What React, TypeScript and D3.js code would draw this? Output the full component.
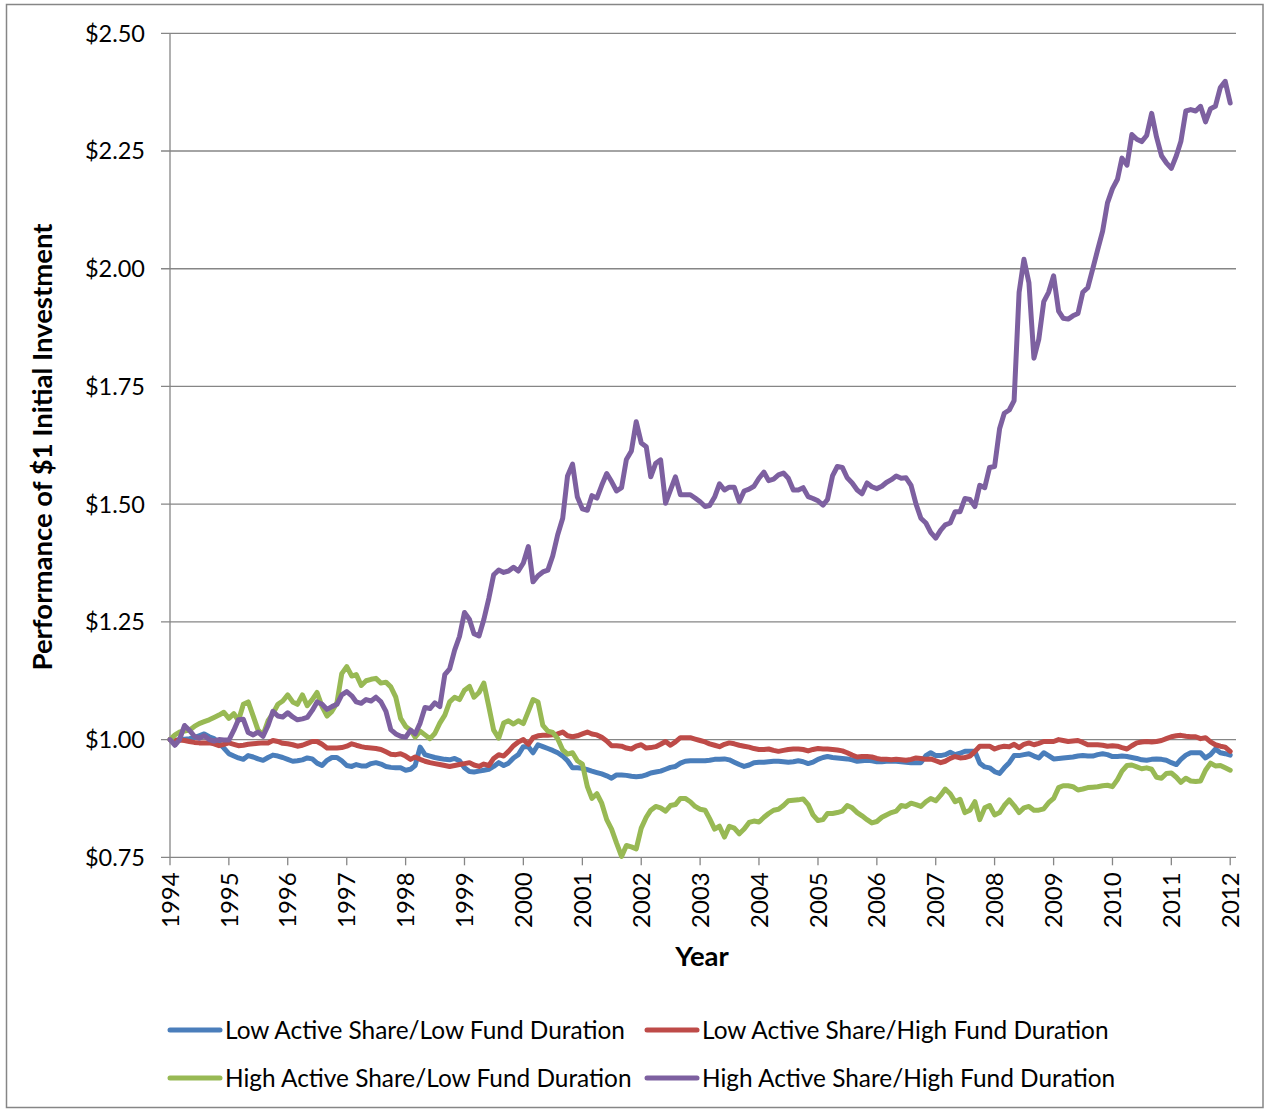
import React from "react";
import * as d3 from "d3";

// monthly values, Jan 1994 .. Jan 2012 (217 points)
const months: Date[] = d3.timeMonth.range(new Date(1994, 0, 1), new Date(2012, 1, 1));

const yearTicks = ["1994", "1995", "1996", "1997", "1998", "1999", "2000", "2001", "2002", "2003",
	"2004", "2005", "2006", "2007", "2008", "2009", "2010", "2011", "2012"];

const yTicks = [0.75, 1.0, 1.25, 1.5, 1.75, 2.0, 2.25, 2.5];

const seriesNames = [
	"Low Active Share/Low Fund Duration",
	"Low Active Share/High Fund Duration",
	"High Active Share/Low Fund Duration",
	"High Active Share/High Fund Duration",
];

const lowLow = [
	1.000, 0.998, 1.000, 1.001, 1.002, 1.004, 1.008, 1.012, 1.006, 1.002, 0.992, 0.982,
	0.970, 0.965, 0.961, 0.958, 0.966, 0.963, 0.959, 0.956, 0.962, 0.967, 0.965, 0.962,
	0.958, 0.954, 0.955, 0.957, 0.961, 0.959, 0.950, 0.945, 0.956, 0.962, 0.962, 0.955,
	0.945, 0.943, 0.947, 0.944, 0.944, 0.949, 0.951, 0.948, 0.943, 0.941, 0.940, 0.940,
	0.935, 0.937, 0.945, 0.984, 0.968, 0.965, 0.962, 0.960, 0.958, 0.957, 0.960, 0.955,
	0.940, 0.932, 0.931, 0.933, 0.935, 0.937, 0.943, 0.951, 0.945, 0.950, 0.961, 0.968,
	0.985, 0.985, 0.972, 0.989, 0.985, 0.981, 0.977, 0.972, 0.965, 0.955, 0.940, 0.940,
	0.939, 0.936, 0.933, 0.930, 0.927, 0.923, 0.918, 0.925, 0.925, 0.924, 0.922, 0.921,
	0.922, 0.925, 0.929, 0.931, 0.933, 0.937, 0.941, 0.943, 0.950, 0.954, 0.955, 0.955,
	0.955, 0.955, 0.956, 0.958, 0.958, 0.959, 0.957, 0.952, 0.947, 0.943, 0.946, 0.951,
	0.952, 0.952, 0.953, 0.954, 0.954, 0.953, 0.952, 0.953, 0.955, 0.953, 0.949, 0.952,
	0.958, 0.962, 0.964, 0.962, 0.961, 0.960, 0.959, 0.957, 0.954, 0.955, 0.956, 0.955,
	0.953, 0.953, 0.954, 0.954, 0.954, 0.953, 0.952, 0.951, 0.951, 0.951, 0.966, 0.972,
	0.966, 0.966, 0.968, 0.973, 0.968, 0.971, 0.975, 0.975, 0.975, 0.950, 0.942, 0.940,
	0.932, 0.928, 0.940, 0.951, 0.966, 0.966, 0.968, 0.970, 0.965, 0.961, 0.972, 0.966,
	0.959, 0.960, 0.961, 0.962, 0.963, 0.965, 0.966, 0.965, 0.965, 0.968, 0.970, 0.968,
	0.964, 0.964, 0.965, 0.964, 0.962, 0.960, 0.957, 0.956, 0.958, 0.959, 0.958, 0.956,
	0.951, 0.947, 0.958, 0.967, 0.972, 0.972, 0.972, 0.961, 0.968, 0.980, 0.972, 0.970,
	0.967,
];

const lowHigh = [
	1.000, 0.998, 0.999, 0.998, 0.996, 0.994, 0.993, 0.993, 0.993, 0.991, 0.987, 0.990,
	0.993, 0.990, 0.987, 0.988, 0.990, 0.991, 0.992, 0.993, 0.993, 0.998, 0.996, 0.992,
	0.991, 0.989, 0.986, 0.988, 0.992, 0.996, 0.996, 0.990, 0.982, 0.982, 0.982, 0.983,
	0.986, 0.991, 0.988, 0.985, 0.983, 0.982, 0.981, 0.979, 0.974, 0.969, 0.968, 0.970,
	0.965, 0.958, 0.963, 0.958, 0.954, 0.951, 0.949, 0.947, 0.945, 0.943, 0.945, 0.947,
	0.949, 0.951, 0.946, 0.943, 0.948, 0.945, 0.960, 0.968, 0.965, 0.975, 0.987, 0.995,
	1.000, 0.990, 1.004, 1.008, 1.009, 1.009, 1.010, 1.012, 1.016, 1.008, 1.006, 1.008,
	1.012, 1.016, 1.012, 1.010, 1.005, 0.997, 0.987, 0.987, 0.986, 0.982, 0.980, 0.986,
	0.989, 0.982, 0.983, 0.985, 0.990, 0.996, 0.988, 0.995, 1.004, 1.004, 1.004, 1.001,
	0.998, 0.995, 0.991, 0.988, 0.985, 0.990, 0.993, 0.991, 0.988, 0.986, 0.984, 0.981,
	0.979, 0.979, 0.980, 0.977, 0.975, 0.977, 0.979, 0.980, 0.980, 0.979, 0.976, 0.979,
	0.981, 0.980, 0.980, 0.979, 0.978, 0.976, 0.972, 0.967, 0.963, 0.964, 0.964, 0.963,
	0.960, 0.958, 0.958, 0.957, 0.958, 0.957, 0.956, 0.958, 0.961, 0.960, 0.958, 0.959,
	0.955, 0.951, 0.954, 0.960, 0.964, 0.961, 0.962, 0.965, 0.975, 0.986, 0.986, 0.986,
	0.980, 0.984, 0.986, 0.985, 0.990, 0.983, 0.990, 0.993, 0.989, 0.992, 0.996, 0.996,
	0.996, 1.000, 0.998, 0.996, 0.997, 0.998, 0.994, 0.989, 0.989, 0.989, 0.988, 0.986,
	0.987, 0.986, 0.983, 0.980, 0.987, 0.993, 0.995, 0.996, 0.995, 0.996, 0.998, 1.002,
	1.006, 1.008, 1.009, 1.007, 1.006, 1.006, 1.002, 1.004, 0.995, 0.989, 0.986, 0.984,
	0.975,
];

const highLow = [
	1.000, 1.010, 1.016, 1.018, 1.020, 1.028, 1.034, 1.038, 1.042, 1.047, 1.052, 1.058,
	1.045, 1.055, 1.040, 1.075, 1.080, 1.050, 1.020, 1.010, 1.040, 1.055, 1.075, 1.082,
	1.095, 1.080, 1.075, 1.095, 1.072, 1.085, 1.100, 1.070, 1.050, 1.060, 1.078, 1.140,
	1.155, 1.135, 1.138, 1.115, 1.125, 1.128, 1.130, 1.120, 1.122, 1.112, 1.090, 1.045,
	1.028, 1.020, 1.005, 1.018, 1.010, 1.002, 1.013, 1.035, 1.052, 1.080, 1.090, 1.085,
	1.105, 1.113, 1.090, 1.100, 1.120, 1.070, 1.020, 1.003, 1.035, 1.040, 1.033, 1.040,
	1.034, 1.060, 1.085, 1.080, 1.030, 1.018, 1.015, 1.002, 0.978, 0.969, 0.972, 0.955,
	0.948, 0.900, 0.875, 0.885, 0.865, 0.830, 0.810, 0.780, 0.752, 0.775, 0.772, 0.768,
	0.812, 0.835, 0.850, 0.858, 0.855, 0.848, 0.860, 0.862, 0.875, 0.875, 0.868, 0.858,
	0.852, 0.850, 0.832, 0.810, 0.816, 0.793, 0.816, 0.812, 0.800, 0.810, 0.824, 0.827,
	0.825, 0.835, 0.843, 0.850, 0.852, 0.860, 0.870, 0.871, 0.872, 0.874, 0.862, 0.840,
	0.828, 0.830, 0.843, 0.843, 0.845, 0.848, 0.860, 0.855, 0.845, 0.838, 0.830, 0.823,
	0.826, 0.835, 0.840, 0.845, 0.848, 0.860, 0.858, 0.865, 0.862, 0.858, 0.868, 0.875,
	0.870, 0.882, 0.895, 0.885, 0.868, 0.873, 0.845, 0.850, 0.868, 0.830, 0.855, 0.860,
	0.840, 0.845, 0.860, 0.872, 0.860, 0.845, 0.855, 0.858, 0.850, 0.850, 0.853, 0.866,
	0.875, 0.898, 0.902, 0.902, 0.900, 0.893, 0.895, 0.898, 0.899, 0.900, 0.902, 0.903,
	0.900, 0.915, 0.933, 0.945, 0.946, 0.942, 0.938, 0.940, 0.937, 0.920, 0.918, 0.928,
	0.929, 0.920, 0.909, 0.918, 0.912, 0.911, 0.912, 0.935, 0.950, 0.944, 0.945, 0.940,
	0.935,
];

const highHigh = [
	1.000, 0.988, 1.000, 1.030, 1.020, 1.007, 1.003, 1.008, 1.000, 0.997, 1.000, 0.999,
	0.999, 1.020, 1.042, 1.043, 1.015, 1.010, 1.016, 1.007, 1.030, 1.060, 1.050, 1.048,
	1.057, 1.048, 1.042, 1.044, 1.047, 1.062, 1.080, 1.075, 1.064, 1.070, 1.075, 1.095,
	1.102, 1.093, 1.080, 1.077, 1.085, 1.082, 1.090, 1.080, 1.060, 1.021, 1.012, 1.007,
	1.005, 1.020, 1.012, 1.035, 1.068, 1.066, 1.078, 1.070, 1.138, 1.150, 1.190, 1.219,
	1.270, 1.255, 1.225, 1.220, 1.255, 1.300, 1.350, 1.360, 1.355, 1.358, 1.366, 1.358,
	1.375, 1.410, 1.335, 1.348, 1.356, 1.360, 1.390, 1.435, 1.470, 1.560, 1.585, 1.515,
	1.490, 1.487, 1.518, 1.513, 1.540, 1.565, 1.548, 1.528, 1.535, 1.595, 1.613, 1.675,
	1.630, 1.622, 1.558, 1.587, 1.594, 1.502, 1.530, 1.558, 1.520, 1.520, 1.520, 1.513,
	1.505, 1.495, 1.497, 1.515, 1.543, 1.530, 1.536, 1.536, 1.505, 1.528, 1.532, 1.538,
	1.555, 1.568, 1.550, 1.553, 1.562, 1.566, 1.555, 1.530, 1.530, 1.535, 1.516, 1.512,
	1.507, 1.498, 1.510, 1.560, 1.580, 1.578, 1.556, 1.545, 1.530, 1.522, 1.545, 1.537,
	1.533, 1.538, 1.546, 1.552, 1.560, 1.555, 1.556, 1.540, 1.500, 1.470, 1.460, 1.440,
	1.428, 1.445, 1.456, 1.460, 1.484, 1.484, 1.512, 1.510, 1.495, 1.540, 1.535, 1.578,
	1.580, 1.660, 1.693, 1.700, 1.720, 1.950, 2.020, 1.970, 1.810, 1.850, 1.930, 1.950,
	1.985, 1.910, 1.895, 1.893, 1.900, 1.905, 1.950, 1.960, 2.000, 2.040, 2.080, 2.140,
	2.170, 2.190, 2.235, 2.220, 2.285, 2.275, 2.270, 2.283, 2.330, 2.280, 2.240, 2.225,
	2.213, 2.240, 2.270, 2.335, 2.338, 2.335, 2.345, 2.312, 2.340, 2.345, 2.385, 2.398,
	2.352,
];

const seriesValues = [lowLow, lowHigh, highLow, highHigh];
const colors = ["#4a7ebb", "#be4b48", "#98b954", "#7d60a0"];

const W = 1266;
const H = 1111;
const plot = { left: 170, right: 1236, top: 33.3, bottom: 857.3 };
const font = "Lato, 'Noto Sans', sans-serif";

export default function App() {
	const x = d3
		.scaleTime()
		.domain([new Date(1994, 0, 1), new Date(2012, 0, 1)])
		.range([plot.left, 1230.2]);
	const y = d3.scaleLinear().domain([0.75, 2.5]).range([plot.bottom, plot.top]);

	const line = d3
		.line<number>()
		.x((d, i) => x(months[i]))
		.y((d) => y(d));

	const gray = "#868686";

	return (
		<svg
			width={W}
			height={H}
			style={{ position: "absolute", left: 0, top: 0, background: "#fff" }}
			fontFamily={font}
		>
			<rect x={6.5} y={4.5} width={1256.5} height={1103} fill="#fff" stroke={gray} strokeWidth={1.5} />

			{/* gridlines + y axis */}
			{yTicks.map((t) => (
				<g key={t}>
					<line x1={plot.left - 9} x2={plot.right} y1={y(t)} y2={y(t)} stroke={gray} strokeWidth={1.3} />
					<text x={145} y={y(t)} dy="0.36em" textAnchor="end" fontSize={23.5} fill="#000">
						{d3.format("$.2f")(t)}
					</text>
				</g>
			))}
			<line x1={plot.left} x2={plot.left} y1={plot.top} y2={plot.bottom} stroke={gray} strokeWidth={1.3} />

			{/* x axis ticks */}
			{yearTicks.map((yr) => {
				const xx = x(new Date(+yr, 0, 1));
				return (
					<g key={yr}>
						<line x1={xx} x2={xx} y1={plot.bottom} y2={plot.bottom + 8} stroke={gray} strokeWidth={1.3} />
						<text
							transform={`translate(${xx},${plot.bottom + 15}) rotate(-90)`}
							dy="0.36em"
							textAnchor="end"
							fontSize={24}
							fill="#000"
						>
							{yr}
						</text>
					</g>
				);
			})}

			{/* series */}
			{seriesValues.map((vals, i) => (
				<path
					key={seriesNames[i]}
					d={line(vals) || ""}
					fill="none"
					stroke={colors[i]}
					strokeWidth={5}
					strokeLinejoin="round"
					strokeLinecap="round"
				/>
			))}

			{/* axis titles */}
			<text
				transform="translate(42,447) rotate(-90)"
				dy="0.36em"
				textAnchor="middle"
				fontSize={27.5}
				fontWeight="bold"
			>
				Performance of $1 Initial Investment
			</text>
			<text x={702} y={956} dy="0.36em" textAnchor="middle" fontSize={27.5} fontWeight="bold">
				Year
			</text>

			{/* legend */}
			{seriesNames.map((name, i) => {
				const lx = i % 2 === 0 ? 168 : 645;
				const ly = i < 2 ? 1030 : 1078;
				return (
					<g key={name}>
						<line x1={lx + 2} x2={lx + 52} y1={ly} y2={ly} stroke={colors[i]} strokeWidth={5} strokeLinecap="round" />
						<text x={lx + 57} y={ly} dy="0.36em" fontSize={24.4}>
							{name}
						</text>
					</g>
				);
			})}
		</svg>
	);
}
